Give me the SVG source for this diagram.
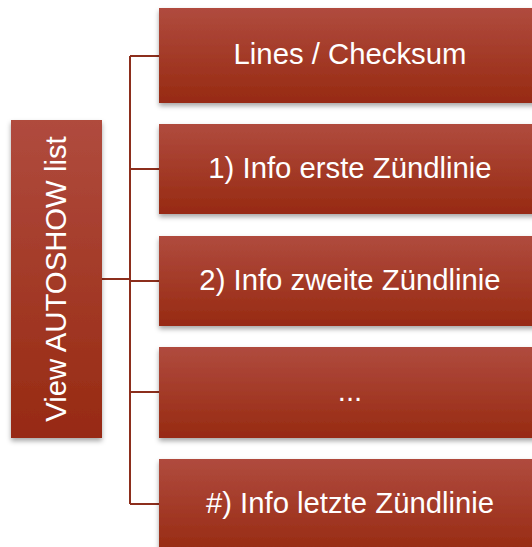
<svg xmlns="http://www.w3.org/2000/svg" width="532" height="547" viewBox="0 0 532 547">
<defs>
<linearGradient id="g" x1="0" y1="0" x2="0" y2="1">
<stop offset="0" stop-color="#B04B3E"/>
<stop offset="1" stop-color="#972A12"/>
</linearGradient>
<filter id="sh" x="-10%" y="-10%" width="120%" height="130%">
<feDropShadow dx="0" dy="3" stdDeviation="2.5" flood-color="#000" flood-opacity="0.35"/>
</filter>
</defs>
<style>
.box{fill:url(#g);filter:url(#sh)}
.t{font-family:"Liberation Sans",Arial,sans-serif;font-size:29.3px;fill:#fff;text-anchor:middle}
.c{stroke:#8C2E1C;stroke-width:2;fill:none}
</style>
<g id="connectors">
<path class="c" d="M102 279H130M130 56V504M130 56H159M130 169H159M130 281H159M130 392H159M130 504H159"/>
</g>
<g id="root">
<rect class="box" x="11" y="120" width="91" height="318"/>
<text class="t" transform="translate(65.5 279) rotate(-90)">View AUTOSHOW list</text>
</g>
<g id="n1">
<rect class="box" x="159" y="8" width="382" height="95"/>
<text class="t" x="350" y="64">Lines / Checksum</text>
</g>
<g id="n2">
<rect class="box" x="159" y="124" width="382" height="90"/>
<text class="t" x="350" y="178">1) Info erste Zündlinie</text>
</g>
<g id="n3">
<rect class="box" x="159" y="236" width="382" height="90"/>
<text class="t" x="350" y="290">2) Info zweite Zündlinie</text>
</g>
<g id="n4">
<rect class="box" x="159" y="347" width="382" height="91"/>
<text class="t" x="350" y="401">...</text>
</g>
<g id="n5">
<rect class="box" x="159" y="459" width="382" height="95"/>
<text class="t" x="350" y="513">#) Info letzte Zündlinie</text>
</g>
</svg>
